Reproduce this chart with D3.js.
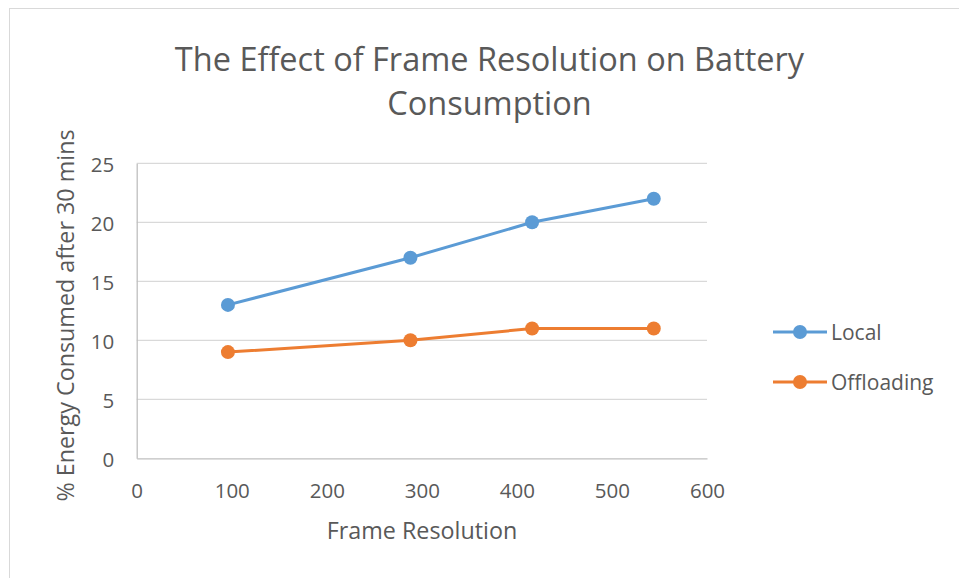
<!DOCTYPE html>
<html><head><meta charset="utf-8">
<script src="https://cdn.jsdelivr.net/npm/d3@7"></script>
<style>body{margin:0;background:#fff}svg text{font-family:"Open Sans",sans-serif;fill:#595959}</style>
</head><body><svg id="c" width="959" height="578"></svg>
<script>
const resolutions = [96, 288, 416, 544];
const localValues = [13, 17, 20, 22];
const offloadingValues = [9, 10, 11, 11];
const seriesNames = ["Local", "Offloading"];
const seriesColors = ["#5B9BD5", "#ED7D31"];
const xTicks = [0, 100, 200, 300, 400, 500, 600];
const yTicks = [0, 5, 10, 15, 20, 25];

const svg = d3.select("#c");
svg.append("rect").attr("x",9.5).attr("y",8.5).attr("width",1000).attr("height",1000)
  .attr("fill","#fff").attr("stroke","#D9D9D9");

const x = d3.scaleLinear().domain([0,600]).range([136.7,707]);
const y = d3.scaleLinear().domain([0,25]).range([458.3,163.3]);

// gridlines
svg.append("g").selectAll("line").data(yTicks.filter(d=>d>0)).join("line")
  .attr("x1",x(0)).attr("x2",x(600)).attr("y1",d=>y(d)).attr("y2",d=>y(d))
  .attr("stroke","#D9D9D9").attr("stroke-width",1.3);

const xAxis = svg.append("g").attr("transform",`translate(0,${y(0)})`)
  .call(d3.axisBottom(x).tickValues(xTicks).tickSize(0).tickPadding(25));
xAxis.select(".domain").attr("stroke","#BFBFBF").attr("stroke-width",1.3);
xAxis.selectAll("text").style("font-size","20.5px").attr("fill","#595959");

const yAxis = svg.append("g").attr("transform",`translate(${x(0)},0)`)
  .call(d3.axisLeft(y).tickValues(yTicks).tickSize(0).tickPadding(22.5));
yAxis.select(".domain").attr("stroke","#BFBFBF").attr("stroke-width",1.3);
yAxis.selectAll("text").style("font-size","20.5px").attr("fill","#595959").attr("dy","0.4em");

const series = [localValues, offloadingValues];
const line = d3.line().x((d,i)=>x(resolutions[i])).y(d=>y(d));
series.forEach((vals,k)=>{
  svg.append("path").datum(vals).attr("d",line).attr("fill","none")
    .attr("stroke",seriesColors[k]).attr("stroke-width",3);
  svg.append("g").selectAll("circle").data(vals).join("circle")
    .attr("cx",(d,i)=>x(resolutions[i])).attr("cy",d=>y(d)).attr("r",7)
    .attr("fill",seriesColors[k]);
});

// legend
const legY = [332, 382];
seriesNames.forEach((n,k)=>{
  const g = svg.append("g");
  g.append("line").attr("x1",773).attr("x2",827).attr("y1",legY[k]).attr("y2",legY[k])
    .attr("stroke",seriesColors[k]).attr("stroke-width",3);
  g.append("circle").attr("cx",800).attr("cy",legY[k]).attr("r",7).attr("fill",seriesColors[k]);
  g.append("text").attr("x",831).attr("y",legY[k]).attr("dy","0.36em")
    .style("font-size","21px").text(n);
});

// titles
svg.append("text").attr("x",489.5).attr("y",71).attr("text-anchor","middle")
  .style("font-size","32.5px").text("The Effect of Frame Resolution on Battery");
svg.append("text").attr("x",489.5).attr("y",114.5).attr("text-anchor","middle")
  .style("font-size","32.5px").text("Consumption");
svg.append("text").attr("x",422).attr("y",539).attr("text-anchor","middle")
  .style("font-size","23.3px").text("Frame Resolution");
svg.append("text").attr("transform","translate(74,315.5) rotate(-90)").attr("text-anchor","middle")
  .style("font-size","23.3px").text("% Energy Consumed after 30 mins");
</script></body></html>
